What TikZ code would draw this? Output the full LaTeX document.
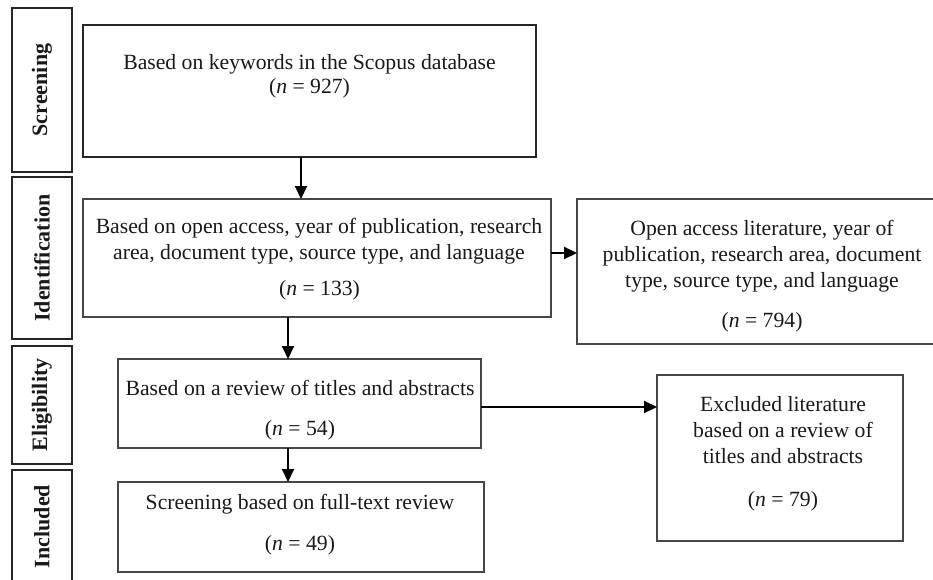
\documentclass[tikz,border=0pt]{standalone}
\usepackage{fontspec}
\setmainfont{Liberation Serif}
\usetikzlibrary{arrows.meta}
\begin{document}
\begin{tikzpicture}[x=1pt,y=-1pt,
  box/.style={draw=black!72, line width=1.3pt, inner sep=0pt, outer sep=0pt},
  stagebox/.style={draw=black!85, line width=2pt, inner sep=0pt, outer sep=0pt, rotate=90,
     font=\fontsize{22}{26}\selectfont\bfseries, text=black!90},
  txt/.style={font=\fontsize{21.7}{25.8}\selectfont, align=center, inner sep=0pt, anchor=base, text=black!90},
  arr/.style={line width=2pt, -{Triangle[length=13pt,width=12pt]}}]
\clip (0,0) rectangle (933,580);
\useasboundingbox (0,0) rectangle (933,580);
% stage labels
\node[stagebox, minimum width=164pt, minimum height=60pt] (s1) at (42,90) {Screening};
\node[stagebox, minimum width=162pt, minimum height=60pt] (s2) at (42,258) {Identification};
\node[stagebox, minimum width=118pt, minimum height=60pt] (s3) at (42,405) {Eligibility};
\node[stagebox, minimum width=113pt, minimum height=60pt] (s4) at (42,526.5) {Included};
% boxes
\node[box, draw=black!85, minimum width=453pt, minimum height=132pt] (b1) at (309.5,91) {};
\node[box, minimum width=468pt, minimum height=118pt] (b2) at (317,258) {};
\node[box, minimum width=368pt, minimum height=145pt] (b3) at (761,271.5) {};
\node[box, minimum width=363pt, minimum height=89pt] (b4) at (299.5,403.5) {};
\node[box, minimum width=366pt, minimum height=90pt] (b5) at (301,527) {};
\node[box, minimum width=246pt, minimum height=166pt] (b6) at (780,458) {};
% texts
\node[txt] (t1) at (309.5,69.5) {Based on keywords in the Scopus database};
\node[txt] (n1) at (309.5,93.5) {(\textit{n} = 927)};
\node[txt] (t2) at (319,259.5) {Based on open access, year of publication, research\\area, document type, source type, and language};
\node[txt] (n2) at (319.5,295.5) {(\textit{n} = 133)};
\node[txt] (t3) at (762,287) {Open access literature, year of\\publication, research area, document\\type, source type, and language};
\node[txt] (n3) at (762,327.5) {(\textit{n} = 794)};
\node[txt] (t4) at (300,395.5) {Based on a review of titles and abstracts};
\node[txt] (n4) at (300,435.5) {(\textit{n} = 54)};
\node[txt] (t5) at (300,509) {Screening based on full-text review};
\node[txt] (n5) at (300,550.5) {(\textit{n} = 49)};
\node[txt] (t6) at (783,463) {Excluded literature\\based on a review of\\titles and abstracts};
\node[txt] (n6) at (783,506.5) {(\textit{n} = 79)};
% arrows
\draw[arr] ([xshift=-8.5pt]b1.south) -- ([xshift=-8.5pt]b1.south |- b2.north);
\draw[arr] ([yshift=5pt]b2.east) -- ([yshift=5pt]b2.east -| b3.west);
\draw[arr] ([xshift=-29pt]b2.south) -- ([xshift=-29pt]b2.south |- b4.north);
\draw[arr] ([xshift=-11.5pt]b4.south) -- ([xshift=-11.5pt]b4.south |- b5.north);
\draw[arr] ([yshift=-3.5pt]b4.east) -- ([yshift=-3.5pt]b4.east -| b6.west);
\end{tikzpicture}
\end{document}
